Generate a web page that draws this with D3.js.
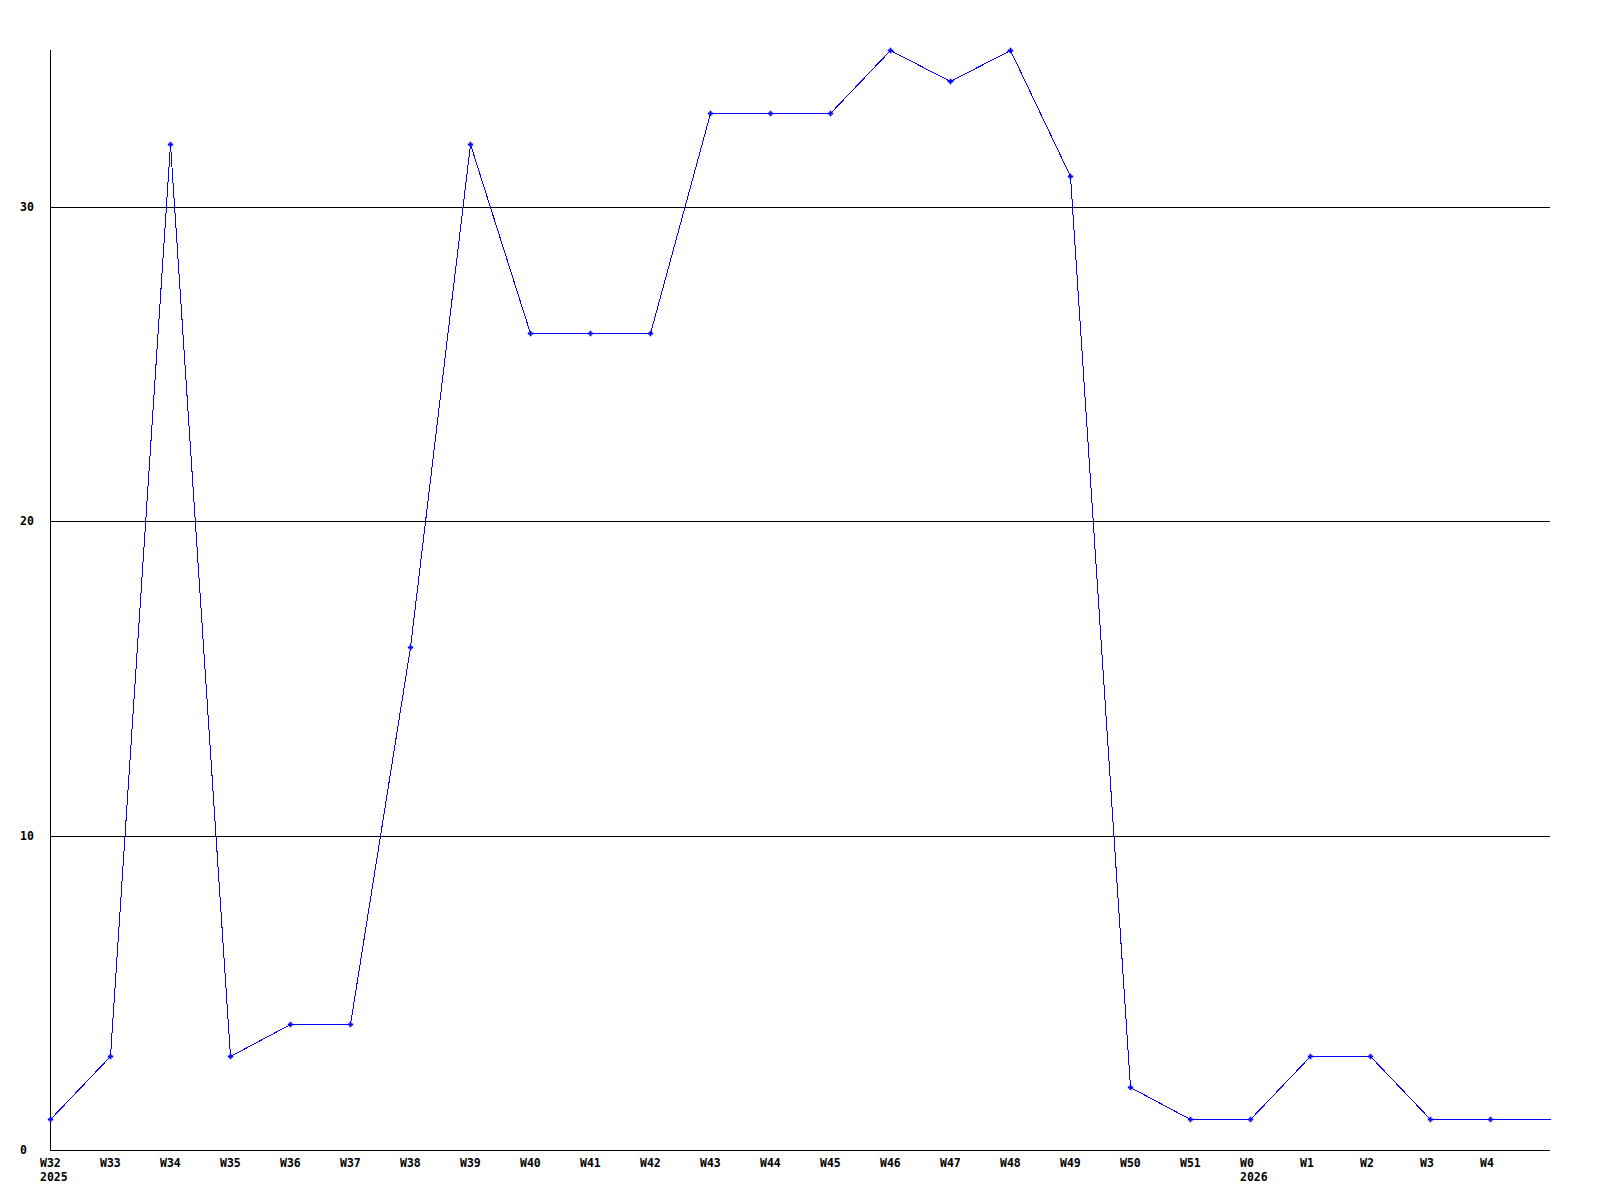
<!DOCTYPE html>
<html>
<head>
<meta charset="utf-8">
<script src="https://cdn.jsdelivr.net/npm/d3@7"></script>
<style>
  body { margin: 0; background: #fff; }
  text { font-family: "DejaVu Sans Mono", monospace; font-weight: bold; font-size: 11.5px; fill: #000; }
</style>
</head>
<body>
<div id="chart"></div>
<script>
// weekly counts, W32 2025 .. W4 2026
const weeks = ["W32", "W33", "W34", "W35", "W36", "W37", "W38", "W39", "W40", "W41", "W42",
  "W43", "W44", "W45", "W46", "W47", "W48", "W49", "W50", "W51", "W0", "W1", "W2", "W3", "W4"];
const years = { "W32": "2025", "W0": "2026" };
const counts = [1, 3, 32, 3, 4, 4, 16, 32, 26, 26, 26, 33, 33, 33, 35, 34, 35, 31, 2, 1, 1, 3, 3, 1, 1];
const yTicks = [0, 10, 20, 30];

const width = 1600, height = 1200;
const margin = { top: 50, right: 50, bottom: 50, left: 50 };

const svg = d3.select("#chart").append("svg")
  .attr("width", width)
  .attr("height", height);

// x axis runs one slot past the last week
const x = d3.scaleLinear()
  .domain([0, weeks.length])
  .range([margin.left, width - margin.right]);

const y = d3.scaleLinear()
  .domain([0, 35])
  .range([height - margin.bottom, margin.top]);

const px = (v) => Math.round(v) + 0.5;

// grid lines
svg.append("g")
  .selectAll("line")
  .data(yTicks.filter((d) => d > 0))
  .join("line")
  .attr("x1", x(0))
  .attr("x2", x(weeks.length))
  .attr("y1", (d) => px(y(d)))
  .attr("y2", (d) => px(y(d)))
  .attr("stroke", "#000")
  .attr("shape-rendering", "crispEdges");

// axes
svg.append("line")
  .attr("x1", px(x(0))).attr("x2", px(x(0)))
  .attr("y1", y(35)).attr("y2", y(0))
  .attr("stroke", "#000")
  .attr("shape-rendering", "crispEdges");
svg.append("line")
  .attr("x1", x(0)).attr("x2", x(weeks.length))
  .attr("y1", px(y(0))).attr("y2", px(y(0)))
  .attr("stroke", "#000")
  .attr("shape-rendering", "crispEdges");

// y labels
svg.append("g")
  .selectAll("text")
  .data(yTicks)
  .join("text")
  .attr("x", 20)
  .attr("y", (d) => y(d))
  .attr("dy", "0.35em")
  .text((d) => d);

// x labels
const xl = svg.append("g")
  .selectAll("g")
  .data(weeks)
  .join("g")
  .attr("transform", (d, i) => `translate(${x(i) - 10},0)`);
xl.append("text")
  .attr("y", height - margin.bottom + 13)
  .attr("dy", "0.35em")
  .text((d) => d);
xl.filter((d) => years[d])
  .append("text")
  .attr("y", height - margin.bottom + 27)
  .attr("dy", "0.35em")
  .text((d) => years[d]);

// line, last value carried to the end of the axis
const pts = counts.map((v, i) => [i, v]);
pts.push([weeks.length, counts[counts.length - 1]]);

svg.append("path")
  .datum(pts)
  .attr("fill", "none")
  .attr("stroke", "#0000ff")
  .attr("stroke-width", 1)
  .attr("shape-rendering", "crispEdges")
  .attr("d", d3.line().x((d) => px(x(d[0]))).y((d) => px(y(d[1]))));

// markers
svg.append("g")
  .selectAll("path")
  .data(counts)
  .join("path")
  .attr("transform", (d, i) => `translate(${px(x(i))},${px(y(d))})`)
  .attr("d", d3.symbol(d3.symbolCross).size(16))
  .attr("fill", "#0000ff");
</script>
</body>
</html>
